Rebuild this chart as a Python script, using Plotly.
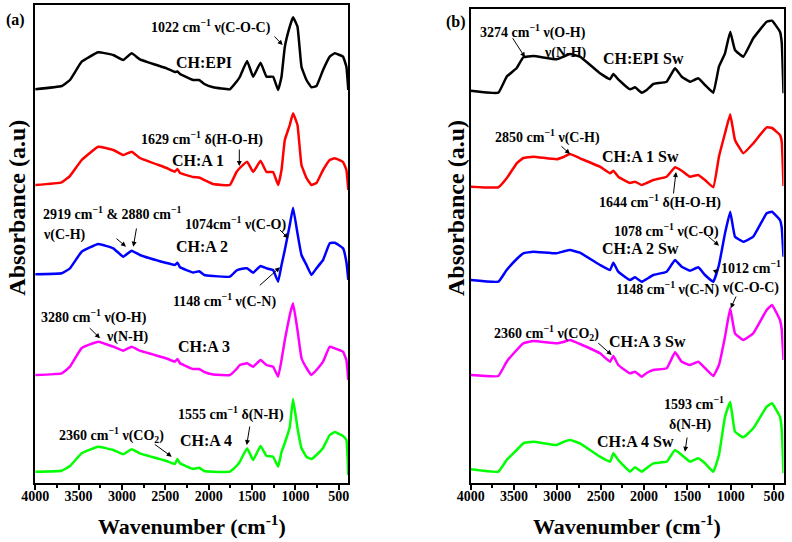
import plotly.graph_objects as go

# ---------------- data (absorbance in arbitrary, offset-stacked units) ----------------
wn_a = [4000, 3695, 3599, 3464, 3273, 3100, 2985, 2888, 2793, 2485, 2390, 2360, 2330, 2179, 2110,
        2050, 1948, 1756, 1679, 1641, 1557, 1487, 1402, 1333, 1257, 1199, 1160, 1122, 1065, 1027,
        976, 930, 872, 815, 757, 681, 604, 546, 451, 412, 390]
ch_epi = [393.7, 397, 403, 421.3, 430.7, 428, 423, 429.7, 423.7, 414.7, 411, 411.5, 409, 403, 403,
          399, 395.7, 393.7, 401.3, 406, 422, 406.3, 420.3, 406.3, 406.3, 393, 406.3, 436, 456.3, 465.7,
          456.3, 416.3, 403, 395.7, 397, 413, 426.3, 429.7, 426.3, 416.3, 393]
ch_a1 = [298, 300.7, 307, 323, 336.3, 333, 328, 331.3, 325, 315, 311.3, 314, 310, 306, 305.5,
         303, 299, 298, 311, 315, 321.3, 311, 322.3, 311, 311, 298, 313, 343, 358, 369.7,
         358, 318, 305, 298, 300, 313, 323, 324.7, 321, 313, 293]
ch_a2 = [208.7, 209.7, 214.7, 231.3, 239, 234.7, 226.3, 232.3, 228, 220, 218, 220.3, 215.7, 210.5, 211.7,
         208, 207, 206.3, 212.5, 213.7, 214.7, 210.3, 217, 214.7, 213, 201.3, 218, 233, 258, 275.3,
         249.7, 228, 218, 208, 214.7, 223, 239.7, 240.3, 234.7, 221, 203]
ch_a3 = [108, 109.7, 116.3, 135, 141.3, 136.3, 132.3, 136.3, 132.3, 124.5, 121.3, 124, 119.7, 114, 114,
         111, 108.5, 108, 114, 118, 119.7, 116.3, 123, 118, 116.3, 106.3, 123, 143, 168, 179.7,
         153, 125, 115, 108, 113, 121.3, 136.3, 134.7, 131.3, 123, 103]
ch_a4 = [11.3, 12.3, 17, 29.7, 36.3, 33, 28.7, 33.7, 29.7, 22, 19, 24, 19.7, 14, 15.3,
         12, 11.3, 11.3, 17, 21.3, 34.7, 23, 37, 27, 26.3, 16.3, 31, 40, 56, 84,
         55, 35, 26, 24, 28, 35, 48, 51, 47, 43, 8]

wn_b = [4000, 3681, 3585, 3469, 3393, 3278, 3008, 2931, 2854, 2739, 2508, 2392, 2354, 2297, 2162,
        2104, 2027, 1969, 1893, 1738, 1642, 1565, 1469, 1374, 1296, 1200, 1135, 1065, 1005, 950,
        854, 739, 584, 523, 431, 410, 390]
ch_epi_sw = [392.3, 390.3, 406.3, 415, 425.7, 427, 423.7, 426.3, 429, 426.3, 409.7, 403.7, 409, 403.7, 393.7,
             395.7, 390.3, 393, 399, 401.3, 414.7, 406.3, 401.3, 404.7, 398, 390.3, 416.3, 429.7, 451.3, 433,
             426.3, 444.7, 461.3, 462.3, 451.3, 440, 389.7]
ch_a1_sw = [296.3, 295.7, 304.7, 319.7, 325, 326.3, 323.7, 326, 329, 324.7, 316.3, 309.7, 312.3, 306.3, 300,
            301.3, 298, 300, 303, 306.3, 315.7, 312.3, 306.3, 308, 303, 295.7, 326.3, 349.7, 368.7, 343,
            329.7, 339.7, 355.7, 355, 348, 341, 297]
ch_a2_sw = [203, 201.3, 213, 224, 229.7, 231.3, 229.7, 231.5, 233, 230.3, 218, 213, 220.3, 211.3, 203,
            205.7, 201.3, 204, 208, 211.3, 223, 216.3, 212.3, 215.7, 208, 201.3, 218, 249.7, 271.3, 246.3,
            241.3, 246.3, 269.7, 271.3, 263, 255, 226.3]
ch_a3_sw = [108, 107, 121.3, 133, 139.7, 142, 139.7, 141, 143, 139, 129.7, 121.3, 127, 118, 109.7,
            111.3, 106.3, 110, 113, 114.7, 130.7, 121.3, 118, 121.3, 115, 107, 118, 146.3, 174.7, 149.7,
            143, 149.7, 173, 178, 163, 153, 123]
ch_a4_sw = [13.7, 11.3, 23, 33, 39.7, 41.3, 38, 41, 43, 39.7, 26.3, 21.3, 29.7, 23, 11.3,
            15.7, 11.3, 15, 19.7, 21.3, 33, 28, 21.3, 24.7, 19.7, 11.3, 28, 66.3, 81.3, 51.3,
            45.7, 54.7, 76.3, 79.7, 66.3, 53, 9.7]

series_a = [("CH:EPI", ch_epi, "#000000"), ("CH:A 1", ch_a1, "#FF0000"), ("CH:A 2", ch_a2, "#0000FF"),
            ("CH:A 3", ch_a3, "#FF00FF"), ("CH:A 4", ch_a4, "#00FF00")]
series_b = [("CH:EPI Sw", ch_epi_sw, "#000000"), ("CH:A 1 Sw", ch_a1_sw, "#FF0000"),
            ("CH:A 2 Sw", ch_a2_sw, "#0000FF"), ("CH:A 3 Sw", ch_a3_sw, "#FF00FF"),
            ("CH:A 4 Sw", ch_a4_sw, "#00FF00")]

tick_vals = [4000, 3500, 3000, 2500, 2000, 1500, 1000, 500]
tick_text = ["4000", "3500", "3000", "2500", "2000", "1500", "1000", "500"]
minor_vals = [3750, 3250, 2750, 2250, 1750, 1250, 750]

# ---------------- layout helpers ----------------
W, H = 792, 542
FONT = "Liberation Serif, Times New Roman, serif"


def px(x):
    return x / W


def py(y):
    return 1 - y / H


fig = go.Figure()
for name, vals, col in series_a:
    fig.add_trace(go.Scatter(x=wn_a, y=vals, mode="lines", name=name,
                             line=dict(color=col, width=2.5, shape="spline", smoothing=0.3),
                             xaxis="x", yaxis="y"))
for name, vals, col in series_b:
    fig.add_trace(go.Scatter(x=wn_b, y=vals, mode="lines", name=name,
                             line=dict(color=col, width=2.5, shape="spline", smoothing=0.3),
                             xaxis="x2", yaxis="y2"))

xax = dict(range=[4000, 390], tickmode="array", tickvals=tick_vals, ticktext=tick_text,
           ticks="outside", ticklen=5, tickwidth=2, tickcolor="black", ticklabelstandoff=-6,
           minor=dict(tickmode="array", tickvals=minor_vals, ticks="outside", ticklen=3,
                      tickwidth=1.5, tickcolor="black"),
           showline=True, linecolor="black", linewidth=2, mirror=True,
           showgrid=False, zeroline=False, automargin=False,
           tickfont=dict(family=FONT, size=14, color="black", weight="bold"))
yax = dict(showline=True, linecolor="black", linewidth=2, mirror=True, showgrid=False,
           zeroline=False, showticklabels=False, ticks="", automargin=False)

fig.update_layout(
    width=W, height=H, margin=dict(l=0, r=0, t=0, b=0, pad=0, autoexpand=False),
    paper_bgcolor="white", plot_bgcolor="white", showlegend=False,
    xaxis=dict(xax, domain=[px(35.2), px(348.3)], anchor="y"),
    yaxis=dict(yax, domain=[py(483), py(5)], range=[0, 478], anchor="x"),
    xaxis2=dict(xax, domain=[px(470.7), px(783.5)], anchor="y2"),
    yaxis2=dict(yax, domain=[py(483), py(9)], range=[0, 474], anchor="x2"),
)

M = "cm<sup>−1</sup>"
texts = [
    ("(a)", 15, 20, 16), ("1022 " + M + " ν(C-O-C)", 211, 26, 14), ("CH:EPI", 204, 62, 16),
    ("1629 " + M + " δ(H-O-H)", 201.7, 138, 14), ("CH:A 1", 197.5, 160, 16),
    ("2919 " + M + " &amp; 2880 " + M, 112, 213, 14), ("ν(C-H)", 64, 235, 14),
    ("CH:A 2", 201.7, 246.7, 16), ("1074cm<sup>−1</sup> ν(C-O)", 235, 223, 14),
    ("1148 " + M + " ν(C-N)", 224, 300, 14), ("3280 " + M + " ν(O-H)", 94, 316.7, 14),
    ("ν(N-H)", 127, 336.7, 14), ("CH:A 3", 204, 346.7, 16),
    ("1555 " + M + " δ(N-H)", 231, 413.3, 14), ("2360 " + M + " ν(CO<sub>2</sub>)", 111.7, 435, 14),
    ("CH:A 4", 205.8, 440, 16),
    ("(b)", 455.7, 21.7, 16), ("3274 " + M + " ν(O-H)", 533, 31.7, 14), ("ν(N-H)", 565, 53.3, 14),
    ("CH:EPI Sw", 643, 58.3, 16), ("2850 " + M + " ν(C-H)", 547.5, 136.7, 14),
    ("CH:A 1 Sw", 640, 156.7, 16), ("1644 " + M + " δ(H-O-H)", 660, 201.7, 14),
    ("1078 " + M + " ν(C-O)", 666.7, 230, 14), ("CH:A 2 Sw", 640, 248.3, 16),
    ("1012 " + M, 751, 266.7, 14), ("ν(C-O-C)", 750, 288.3, 14),
    ("1148 " + M + " ν(C-N)", 667.5, 288.3, 14), ("2360 " + M + " ν(CO<sub>2</sub>)", 546, 333.3, 14),
    ("CH:A 3 Sw", 647, 341.7, 16), ("1593 " + M, 694, 403.3, 14), ("δ(N-H)", 690.5, 425, 14),
    ("CH:A 4 Sw", 635, 441.7, 16),
]
arrows = [
    (273, 35, 282.7, 45), (239.3, 148, 239.3, 166), (115, 237.3, 126, 246.7), (136.7, 227, 133.3, 246.7),
    (278.3, 228.3, 288.3, 238.3), (258.3, 286.7, 280, 267.3), (88.3, 326.7, 100, 338.3),
    (250, 425, 246.7, 445), (153.3, 443.3, 171.7, 456.7),
    (511.7, 36.7, 525, 57.3), (560, 145, 570, 154), (673.3, 195, 676, 172), (706.7, 235, 719, 245.7),
    (713.3, 273.3, 718.3, 269), (736.7, 295, 730.7, 308.3), (596.7, 341.7, 611.7, 355),
    (687.3, 436, 685, 451.7),
]

ann = []
for t, x, y, s in texts:
    ann.append(dict(text=t, x=px(x), y=py(y), xref="paper", yref="paper", showarrow=False,
                    xanchor="center", yanchor="middle",
                    font=dict(family=FONT, size=s, color="black", weight="bold")))
for x0, y0, x1, y1 in arrows:
    ann.append(dict(text="", x=px(x1), y=py(y1), xref="paper", yref="paper", showarrow=True,
                    ax=x0 - x1, ay=y0 - y1, axref="pixel", ayref="pixel",
                    arrowhead=2, arrowsize=1, arrowwidth=1, arrowcolor="black", standoff=0))
for x, y in [(16.7, 208), (456, 208)]:
    ann.append(dict(text="Absorbance (a.u)", x=px(x), y=py(y), xref="paper", yref="paper",
                    showarrow=False, textangle=-90, xanchor="center", yanchor="middle",
                    font=dict(family=FONT, size=24, color="black", weight="bold")))
for x in [191.7, 627]:
    ann.append(dict(text="Wavenumber (cm<sup>-1</sup>)", x=px(x), y=py(525), xref="paper", yref="paper",
                    showarrow=False, xanchor="center", yanchor="middle",
                    font=dict(family=FONT, size=22, color="black", weight="bold")))
fig.update_layout(annotations=ann)

fig.write_html("out.html", config={"displayModeBar": False},
               post_script="document.body.style.margin='0';document.body.style.overflow='hidden';")
